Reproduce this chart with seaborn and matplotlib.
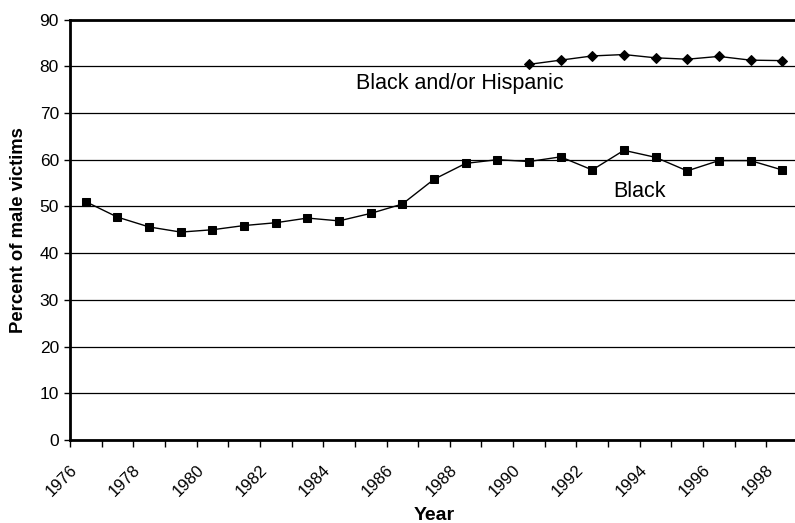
import numpy as np
import pandas as pd
import seaborn as sns
import matplotlib.pyplot as plt

# values
years = list(range(1976, 1999))
black = [51.0, 47.7, 45.6, 44.5, 45.0, 45.9, 46.5, 47.5, 46.9, 48.5, 50.5, 55.8, 59.2,
         60.0, 59.6, 60.6, 57.8, 62.0, 60.5, 57.6, 59.8, 59.8, 57.8]
hisp_years = list(range(1990, 1999))
black_hisp = [80.4, 81.3, 82.2, 82.5, 81.8, 81.5, 82.1, 81.3, 81.2]
label_years = list(range(1976, 1999, 2))

sns.set_style("white")
plt.rcParams['font.family'] = ['Liberation Sans', 'DejaVu Sans']
plt.rcParams['text.color'] = 'black'
plt.rcParams['axes.labelcolor'] = 'black'
plt.rcParams['xtick.color'] = 'black'
plt.rcParams['ytick.color'] = 'black'

df1 = pd.DataFrame({'Year': years, 'Percent': black})
df1['pos'] = df1['Year'] + 0.5
df2 = pd.DataFrame({'Year': hisp_years, 'Percent': black_hisp})
df2['pos'] = df2['Year'] + 0.5

fig = plt.figure(figsize=(7.95, 5.23), dpi=100)
ax = fig.add_axes([70/795, 1 - 440/523, (798 - 70)/795, (440 - 19.5)/523])

sns.lineplot(data=df1, x='pos', y='Percent', color='black', marker='s', markersize=6,
             markeredgecolor='black', linewidth=1, ax=ax)
sns.lineplot(data=df2, x='pos', y='Percent', color='black', marker='D', markersize=5,
             markeredgecolor='black', linewidth=1, ax=ax)

ax.set_xlim(1976, 1999)
ax.set_ylim(0, 90)
ax.set_yticks(range(0, 91, 10))
ax.yaxis.grid(True, color='black', linewidth=0.9)
ax.set_axisbelow(True)

ax.set_xticks(years, minor=True)
ax.set_xticks([y + 0.15 for y in label_years])
ax.set_xticklabels([str(y) for y in label_years], rotation=45, ha='right', va='center',
                   rotation_mode='anchor', fontsize=12)
ax.tick_params(axis='x', which='major', length=0, pad=19.5)
ax.tick_params(axis='x', which='minor', length=5, width=1, direction='out', bottom=True, color='black')
ax.tick_params(axis='y', length=4, width=1, direction='out', left=True, color='black', labelsize=12.5, pad=4)

for s in ['left', 'bottom', 'top']:
    ax.spines[s].set_color('black')
    ax.spines[s].set_linewidth(2)
ax.spines['right'].set_visible(False)

ax.text(1985.05, 76.2, 'Black and/or Hispanic', fontsize=15.5, va='center', ha='left')
ax.text(1993.15, 53.1, 'Black', fontsize=15.5, va='center', ha='left')

ax.set_xlabel('Year', fontsize=14, fontweight='bold')
ax.set_ylabel('Percent of male victims', fontsize=13.3, fontweight='bold')
ax.xaxis.label.set_va('center')
ax.yaxis.label.set_va('center')
ax.xaxis.set_label_coords(0.5, (440 - 515) / 420.5)
ax.yaxis.set_label_coords((18.5 - 70) / 728, 0.5)

fig.savefig('out.png', dpi=100)
